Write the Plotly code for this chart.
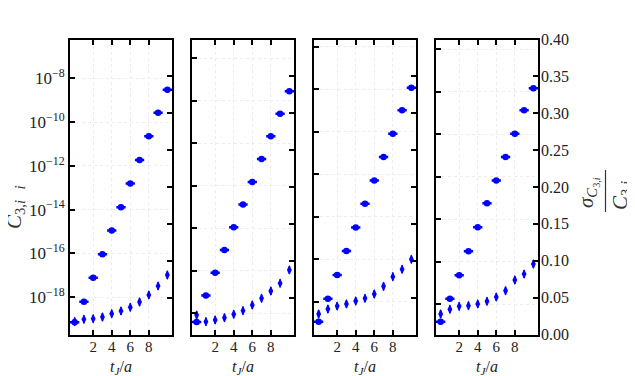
import plotly.graph_objects as go

# t_J/a values shared by every panel
t = [0, 1, 2, 3, 4, 5, 6, 7, 8, 9, 10]

# C_{3,i} (log10 of the values), one list per panel
logc_1 = [-19.14, -18.20, -17.11, -16.04, -14.95, -13.89, -12.81, -11.73, -10.65, -9.58, -8.52]
logc_2 = [-20.40, -19.15, -18.09, -17.02, -15.95, -14.87, -13.82, -12.74, -11.67, -10.61, -9.55]
logc_3 = [-20.94, -19.86, -18.74, -17.61, -16.50, -15.39, -14.29, -13.19, -12.09, -10.99, -9.93]
logc_4 = [-20.83, -19.75, -18.64, -17.51, -16.39, -15.26, -14.18, -13.08, -11.99, -10.88, -9.85]

# relative error sigma_C / C, one list per panel
rel_1 = [0.0174, 0.0206, 0.0214, 0.0237, 0.0282, 0.0319, 0.0369, 0.0441, 0.0536, 0.0658, 0.0807]
rel_2 = [0.0264, 0.0174, 0.0197, 0.0228, 0.0274, 0.0323, 0.0400, 0.0491, 0.0590, 0.0694, 0.0875]
rel_3 = [0.0278, 0.0346, 0.0386, 0.0414, 0.0454, 0.0491, 0.0549, 0.0653, 0.0784, 0.0884, 0.1020]
rel_4 = [0.0278, 0.0342, 0.0382, 0.0391, 0.0414, 0.0450, 0.0508, 0.0594, 0.0739, 0.0820, 0.0956]

t_err = [0.5] * 11
rel_err = [0.0055] * 11

# axis limits (log10) for the left axes of each panel
log_ranges = [[-19.70, -6.23], [-20.99, -7.115], [-21.54, -7.66], [-21.43, -7.553]]
log_ticks = [1e-8, 1e-10, 1e-12, 1e-14, 1e-16, 1e-18, 1e-20]
log_ticktext = ['10<sup>\u22128</sup>', '10<sup>\u221210</sup>', '10<sup>\u221212</sup>',
                '10<sup>\u221214</sup>', '10<sup>\u221216</sup>', '10<sup>\u221218</sup>', ' ']
rel_ticks = [0.0, 0.05, 0.10, 0.15, 0.20, 0.25, 0.30, 0.35, 0.40]
rel_ticktext = ['0.00', '0.05', '0.10', '0.15', '0.20', '0.25', '0.30', '0.35', '0.40']
t_ticks = [2, 4, 6, 8]

logc = [logc_1, logc_2, logc_3, logc_4]
rel = [rel_1, rel_2, rel_3, rel_4]

W, H = 635, 376
OFF = 8  # the page body margin shifts the figure by this much
left_px = [70, 192, 314, 436]
panel_w = 102
top_px, bot_px = 39.5, 334.5
BLUE = '#0000ff'
FONT = 'Liberation Serif'
TXT = '#222222'


def px(x):
    return (x - OFF) / W


def py(y):
    return 1 - (y - OFF) / H


fig = go.Figure()
layout = {}
for k in range(4):
    n = k + 1
    xa = 'x' if n == 1 else f'x{n}'
    ya_l = f'y{2 * n - 1}' if n > 1 else 'y'
    ya_r = f'y{2 * n}'
    c_vals = [10 ** v for v in logc[k]]
    fig.add_trace(go.Scatter(
        x=t, y=c_vals, mode='markers', xaxis=xa, yaxis=ya_l,
        marker=dict(symbol='circle', size=6.5, color=BLUE),
        error_x=dict(type='data', array=t_err, color=BLUE, thickness=2.5, width=0),
        showlegend=False))
    fig.add_trace(go.Scatter(
        x=t, y=rel[k], mode='markers', xaxis=xa, yaxis=ya_r,
        marker=dict(symbol='diamond-tall', size=7, color=BLUE),
        error_y=dict(type='data', array=rel_err, color=BLUE, thickness=1.6, width=0),
        showlegend=False))

    xdom = [px(left_px[k]), px(left_px[k] + panel_w)]
    ydom = [py(bot_px), py(top_px)]
    xkey = 'xaxis' if n == 1 else f'xaxis{n}'
    lkey = 'yaxis' if n == 1 else f'yaxis{2 * n - 1}'
    rkey = f'yaxis{2 * n}'
    layout[xkey] = dict(
        domain=xdom, range=[-0.5, 10.5], anchor=ya_l, automargin=False,
        tickvals=t_ticks, ticks='inside', ticklen=5, tickwidth=1.5, tickcolor='black',
        ticklabelstandoff=-3,
        showline=True, linecolor='black', linewidth=2, mirror='ticks',
        showgrid=True, gridcolor='#ececec', griddash='dot', gridwidth=1,
        zeroline=False, tickfont=dict(family=FONT, size=15, color=TXT))
    left = dict(
        domain=ydom, type='log', range=log_ranges[k], anchor=xa, automargin=False,
        ticks='inside', ticklen=5, tickwidth=1.5, tickcolor='black',
        showline=True, linecolor='black', linewidth=2, mirror=True,
        showgrid=True, gridcolor='#ececec', griddash='dot', gridwidth=1,
        zeroline=False, tickfont=dict(family=FONT, size=17, color=TXT))
    if n == 1:
        left.update(tickvals=log_ticks, ticktext=log_ticktext)
    else:
        left.update(tickvals=log_ticks, showticklabels=False)
    layout[lkey] = left
    right = dict(
        overlaying=ya_l, side='right', anchor=xa, range=[0, 0.40], automargin=False,
        tickvals=rel_ticks, ticks='inside', ticklen=5, tickwidth=1.5, tickcolor='black',
        showline=False, showgrid=False, zeroline=False,
        tickfont=dict(family=FONT, size=16, color=TXT))
    if n == 4:
        right.update(ticktext=rel_ticktext, ticklabelstandoff=2)
    else:
        right.update(showticklabels=False)
    layout[rkey] = right

fig.update_layout(**layout)

annotations = []
for k in range(4):
    annotations.append(dict(
        text='<i>t<sub>J</sub></i>/<i>a</i>', x=px(left_px[k] + panel_w / 2), y=py(367),
        xref='paper', yref='paper', xanchor='center', yanchor='middle', showarrow=False,
        font=dict(family=FONT, size=16, color=TXT)))
annotations.append(dict(
    text='<i>C</i><sub>3,<i>i</i></sub>  <sub><i>i</i></sub>', x=px(15), y=py(207),
    xref='paper', yref='paper', xanchor='center', yanchor='middle',
    showarrow=False, textangle=-90,
    font=dict(family=FONT, size=21, color='#333')))
annotations.append(dict(
    text='<i>\u03c3</i><sub><i>C</i><sub>3,<i>i</i></sub></sub>', x=px(588), y=py(193),
    xref='paper', yref='paper', xanchor='center', yanchor='middle',
    showarrow=False, textangle=-90,
    font=dict(family=FONT, size=21, color='#333')))
annotations.append(dict(
    text='<i>C</i><sub>3,<i>i</i></sub>', x=px(621), y=py(196),
    xref='paper', yref='paper', xanchor='center', yanchor='middle',
    showarrow=False, textangle=-90,
    font=dict(family=FONT, size=21, color='#333')))

fig.update_layout(
    template='none',
    width=W, height=H, margin=dict(l=0, r=0, t=0, b=0, pad=0, autoexpand=False),
    paper_bgcolor='white', plot_bgcolor='white',
    annotations=annotations,
    shapes=[dict(type='line', xref='paper', yref='paper',
                 x0=px(605.5), x1=px(605.5), y0=py(212), y1=py(170),
                 line=dict(color='#333', width=1.2))])

fig.write_html('out.html')
